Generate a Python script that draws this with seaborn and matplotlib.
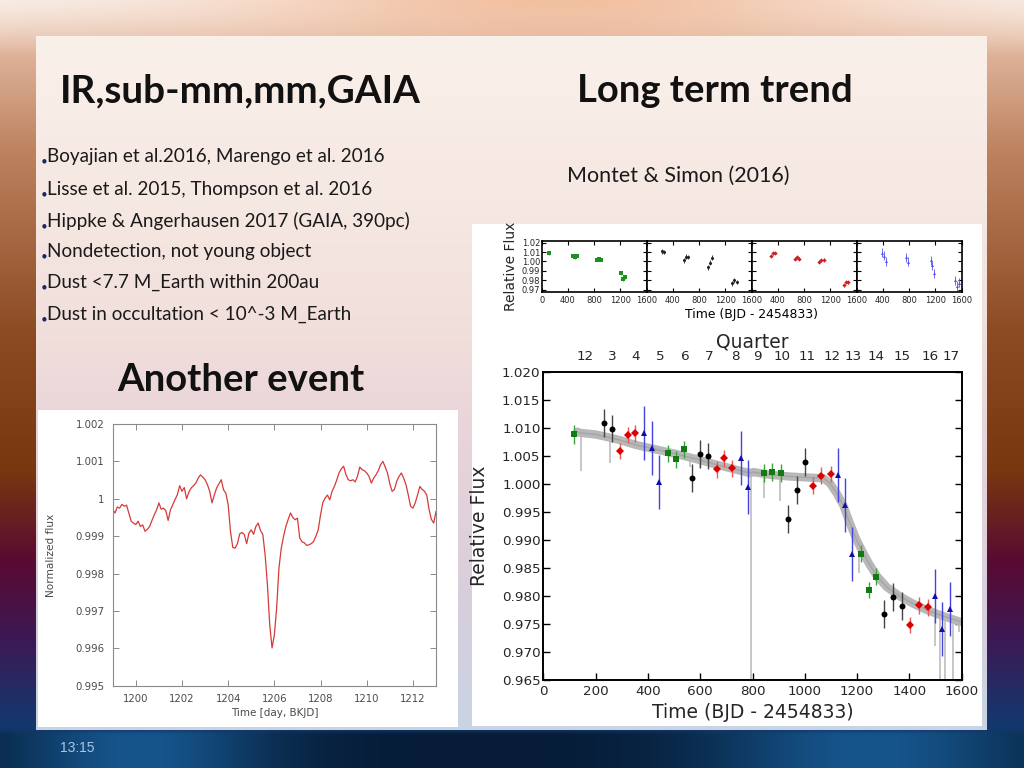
import numpy as np
import matplotlib
matplotlib.use("Agg")
import matplotlib.pyplot as plt
import seaborn as sns

# ---------------- data ----------------
bullets = [
    "Boyajian et al.2016, Marengo et al. 2016",
    "Lisse et al. 2015, Thompson et al. 2016",
    "Hippke & Angerhausen 2017 (GAIA, 390pc)",
    "Nondetection, not young object",
    "Dust <7.7 M_Earth within 200au",
    "Dust in occultation < 10^-3 M_Earth",
]

event_time = [1199.0, 1199.1, 1199.2, 1199.3, 1199.4, 1199.5, 1199.6, 1199.7, 1199.8, 1199.9,
              1200.0, 1200.1, 1200.2, 1200.3, 1200.4, 1200.5, 1200.6, 1200.7, 1200.8, 1200.9,
              1201.0, 1201.1, 1201.2, 1201.3, 1201.4, 1201.5, 1201.6, 1201.7, 1201.8, 1201.9,
              1202.0, 1202.1, 1202.2, 1202.3, 1202.4, 1202.5, 1202.6, 1202.7, 1202.8, 1202.9,
              1203.0, 1203.1, 1203.2, 1203.3, 1203.4, 1203.5, 1203.6, 1203.7, 1203.8, 1203.9,
              1204.0, 1204.1, 1204.2, 1204.3, 1204.4, 1204.5, 1204.6, 1204.7, 1204.8, 1204.9,
              1205.0, 1205.1, 1205.2, 1205.3, 1205.4, 1205.5, 1205.6, 1205.7, 1205.8, 1205.9,
              1206.0, 1206.1, 1206.2, 1206.3, 1206.4, 1206.5, 1206.6, 1206.7, 1206.8, 1206.9,
              1207.0, 1207.1, 1207.2, 1207.3, 1207.4, 1207.5, 1207.6, 1207.7, 1207.8, 1207.9,
              1208.0, 1208.1, 1208.2, 1208.3, 1208.4, 1208.5, 1208.6, 1208.7, 1208.8, 1208.9,
              1209.0, 1209.1, 1209.2, 1209.3, 1209.4, 1209.5, 1209.6, 1209.7, 1209.8, 1209.9,
              1210.0, 1210.1, 1210.2, 1210.3, 1210.4, 1210.5, 1210.6, 1210.7, 1210.8, 1210.9,
              1211.0, 1211.1, 1211.2, 1211.3, 1211.4, 1211.5, 1211.6, 1211.7, 1211.8, 1211.9,
              1212.0, 1212.1, 1212.2, 1212.3, 1212.4, 1212.5, 1212.6, 1212.7, 1212.8, 1212.9,
              1213.0]
event_flux = [0.99971, 0.99962, 0.99978, 0.99975, 0.99985, 0.99980, 0.99983, 0.99962, 0.99940, 0.99935,
              0.99931, 0.99940, 0.99926, 0.99930, 0.99913, 0.99918, 0.99926, 0.99942, 0.99957, 0.99970,
              0.99989, 0.99972, 0.99975, 0.99968, 0.99942, 0.99970, 0.99984, 0.99998, 1.00011, 1.00035,
              1.00020, 1.00030, 1.00000, 1.00018, 1.00029, 1.00035, 1.00042, 1.00055, 1.00064, 1.00058,
              1.00051, 1.00038, 1.00020, 0.99989, 1.00010, 1.00029, 1.00040, 1.00051, 1.00024, 1.00015,
              0.99984, 0.99913, 0.99870, 0.99868, 0.99880, 0.99906, 0.99910, 0.99904, 0.99880, 0.99908,
              0.99917, 0.99905, 0.99926, 0.99935, 0.99915, 0.99905, 0.99850, 0.99770, 0.99663, 0.99601,
              0.99636, 0.99708, 0.99815, 0.99868, 0.99900, 0.99926, 0.99945, 0.99962, 0.99950, 0.99944,
              0.99948, 0.99895, 0.99885, 0.99882, 0.99875, 0.99877, 0.99880, 0.99886, 0.99900, 0.99917,
              0.99957, 0.99990, 1.00002, 1.00010, 0.99997, 1.00020, 1.00033, 1.00050, 1.00069, 1.00080,
              1.00087, 1.00065, 1.00051, 1.00048, 1.00051, 1.00045, 1.00060, 1.00085, 1.00078, 1.00075,
              1.00069, 1.00060, 1.00042, 1.00055, 1.00064, 1.00075, 1.00091, 1.00100, 1.00085, 1.00069,
              1.00040, 1.00020, 1.00025, 1.00047, 1.00060, 1.00069, 1.00055, 1.00038, 1.00010, 0.99980,
              0.99975, 0.99989, 1.00010, 1.00033, 1.00025, 1.00020, 1.00010, 0.99971, 0.99945, 0.99935,
              0.99966]

trend_t = [130, 140, 200, 230, 293, 357, 434, 510, 586, 663, 739, 790, 803, 867, 943, 1020,
           1071, 1096, 1122, 1147, 1173, 1198, 1224, 1249, 1275, 1313, 1364, 1415, 1466, 1517,
           1555, 1594]
trend_f = [1.0093, 1.0091, 1.0088, 1.0085, 1.0078, 1.0069, 1.0061, 1.0053, 1.0044, 1.0034,
           1.0025, 1.0019, 1.0021, 1.0016, 1.0013, 1.0011, 1.0010, 1.0001, 0.9983, 0.9962,
           0.9929, 0.9900, 0.9876, 0.9855, 0.9836, 0.9816, 0.9799, 0.9786, 0.9775, 0.9766,
           0.9760, 0.9754]
spike_t = [143, 255, 560, 600, 793, 845, 905, 1207, 1498, 1517, 1536, 1568, 1590]
spike_hi = [1.0091, 1.0085, 1.0046, 1.0043, 1.0019, 1.0016, 1.0015, 0.9895, 0.9769, 0.9766, 0.9764, 0.9760, 0.9754]
spike_lo = [1.0022, 1.0037, 1.0030, 1.0028, 0.9650, 0.9975, 0.9970, 0.9841, 0.9710, 0.9650, 0.9650, 0.9650, 0.9735]

green_t = [116, 478, 506, 539, 845, 876, 908, 1215, 1246, 1272]
green_f = [1.00888, 1.00543, 1.00436, 1.00615, 1.00186, 1.00216, 1.00186, 0.98754, 0.98105, 0.98343]
green_e = [0.0017, 0.0015, 0.0015, 0.0015, 0.0016, 0.0016, 0.0016, 0.0015, 0.0015, 0.0015]

black_t = [232, 261, 567, 599, 630, 937, 969, 1001, 1304, 1336, 1371]
black_f = [1.01078, 1.00981, 1.00109, 1.00525, 1.00496, 0.99378, 0.99889, 1.00389, 0.97683, 0.97987, 0.97814]
black_e = [0.0025, 0.0024, 0.0025, 0.0025, 0.0024, 0.0025, 0.0025, 0.0025, 0.0025, 0.0025, 0.0025]

red_t = [293, 324, 352, 663, 692, 720, 1033, 1063, 1099, 1402, 1436, 1470]
red_f = [1.00585, 1.00870, 1.00900, 1.00258, 1.00454, 1.00276, 0.99967, 1.00145, 1.00175, 0.97481, 0.97832, 0.97796]
red_e = [0.0015, 0.0015, 0.0015, 0.0015, 0.0015, 0.0015, 0.0015, 0.0015, 0.0015, 0.0015, 0.0015, 0.0015]

blue_t = [385, 414, 444, 755, 784, 1126, 1155, 1182, 1498, 1523, 1555]
blue_f = [1.00912, 1.00632, 1.00038, 1.00454, 0.99949, 1.00151, 0.99622, 0.98748, 0.98004, 0.97404, 0.97766]
blue_e = [0.0048, 0.0048, 0.0048, 0.0048, 0.0048, 0.0048, 0.0048, 0.0048, 0.0048, 0.0048, 0.0048]

quarter_pos = [159, 265, 353, 449, 542, 634, 736, 818, 912, 1007, 1103, 1186, 1272, 1374, 1481, 1559]
quarter_lab = ["12", "3", "4", "5", "6", "7", "8", "9", "10", "11", "12", "13", "14", "15", "16", "17"]

# ---------------- style ----------------
sns.set_theme(style="ticks")
plt.rcParams["font.family"] = ["DejaVu Sans"]
plt.rcParams["axes.grid"] = False

W, H = 1024, 768
fig = plt.figure(figsize=(10.24, 7.68), dpi=100)


def fx(x):
    return x / W


def fy(y):
    return 1 - y / H


# ---------------- slide background ----------------
bg = fig.add_axes([0, 0, 1, 1])
bg.axis("off")
rows = np.arange(H, dtype=float)
cols = np.arange(W, dtype=float)
side_y = [0, 150, 330, 470, 560, 640, 720, 768]
side_c = [(240, 205, 185), (190, 130, 95), (140, 75, 35), (120, 55, 15),
          (90, 10, 50), (60, 25, 85), (20, 55, 110), (10, 55, 100)]
img = np.zeros((H, W, 3))
for k in range(3):
    img[:, :, k] = np.interp(rows, side_y, [c[k] for c in side_c])[:, None]
wt = np.clip(1 - rows / 55.0, 0, 1)[:, None, None]
xf = np.exp(-((cols - 560) / 330.0) ** 2)[None, :, None]
edge = np.array([248, 238, 232])[None, None, :]
peach = np.array([242, 192, 160])[None, None, :]
img = img * (1 - wt) + (edge + (peach - edge) * xf) * wt
wb = np.clip((rows - 728) / 6.0, 0, 1)[:, None, None]
hx = (np.exp(-((cols - 140) / 130.0) ** 2) + np.exp(-((cols - 870) / 160.0) ** 2))[None, :, None]
base = np.array([6, 28, 55])[None, None, :]
hl = np.array([22, 85, 140])[None, None, :]
img = img * (1 - wb) + (base + (hl - base) * np.clip(hx, 0, 1)) * wb
py = [36, 200, 330, 420, 600, 730]
pc = [(250, 240, 234), (246, 232, 226), (241, 223, 219), (234, 213, 217), (216, 206, 220), (200, 212, 228)]
pan = np.zeros((730 - 36, 3))
for k in range(3):
    pan[:, k] = np.interp(np.arange(36, 730), py, [c[k] for c in pc])
img[36:730, 36:987, :] = pan[:, None, :]
img[410:727, 38:458, :] = 255
img[224:726, 472:982, :] = 255
bg.imshow(img.clip(0, 255).astype(np.uint8), extent=[0, W, H, 0], aspect="auto", interpolation="bilinear")
bg.set_xlim(0, W)
bg.set_ylim(H, 0)

# ---------------- slide text ----------------
TF = ["Lato", "DejaVu Sans"]
fig.text(fx(60), fy(102), "IR,sub-mm,mm,GAIA", family=TF, fontsize=27.8, fontweight="bold",
         color="#111111", va="baseline", ha="left")
fig.text(fx(577), fy(102), "Long term trend", family=TF, fontsize=27.5, fontweight="bold",
         color="#111111", va="baseline", ha="left")
fig.text(fx(117), fy(391), "Another event", family=TF, fontsize=27.5, fontweight="bold",
         color="#111111", va="baseline", ha="left")
base_y = [162, 195, 227, 257, 288, 320]
for yb, line in zip(base_y, bullets):
    fig.text(fx(41.5), fy(yb), "\u25CF", family=["DejaVu Sans"], fontsize=4, color="#1a2470",
             va="baseline", ha="left")
    fig.text(fx(47), fy(yb), line, family=TF, fontsize=13.6, color="#1a1a1a", va="baseline", ha="left")
fig.text(fx(567), fy(182), "Montet & Simon (2016)", family=TF, fontsize=15.5, color="#1a1a1a",
         va="baseline", ha="left")
fig.text(fx(60), fy(752), "13:15", family=["Liberation Sans", "DejaVu Sans"], fontsize=10,
         color="#a9c6e6", va="baseline", ha="left")

# ---------------- left chart: another event ----------------
axl = fig.add_axes([fx(112.7), fy(685.7), fx(436 - 112.7), (685.7 - 424) / H])
sns.lineplot(x=event_time, y=event_flux, ax=axl, color="#d63a3a", lw=0.9, estimator=None, sort=False)
axl.set_xlim(1199, 1213)
axl.set_ylim(0.995, 1.002)
axl.set_xticks([1200, 1202, 1204, 1206, 1208, 1210, 1212])
axl.set_yticks([0.995, 0.996, 0.997, 0.998, 0.999, 1.0, 1.001, 1.002])
axl.set_yticklabels(["0.995", "0.996", "0.997", "0.998", "0.999", "1", "1.001", "1.002"])
axl.tick_params(direction="in", length=4, width=0.7, color="#8a8a8a", labelsize=7.3,
                labelcolor="#4a4a4a", right=True, top=True, pad=6)
for s in axl.spines.values():
    s.set_color("#8a8a8a")
    s.set_linewidth(0.8)
axl.set_xlabel("Time [day, BKJD]", fontsize=7.5, color="#4a4a4a", labelpad=3)
axl.set_ylabel("Normalized flux", fontsize=7.6, color="#4a4a4a", labelpad=14)
axl.set_facecolor("white")

# ---------------- series styles ----------------
series = [
    (green_t, green_f, green_e, "s", "#137a13", "#3aa23a"),
    (black_t, black_f, black_e, "o", "#000000", "#444444"),
    (red_t, red_f, red_e, "D", "#dd0000", "#ee5555"),
    (blue_t, blue_f, blue_e, "^", "#1010a8", "#4444dd"),
]

# ---------------- small four-panel chart ----------------
edges = [541.7, 646.7, 751.7, 856.7, 961.7]
small_colors = ["#1f8f1f", "#222222", "#cc2020", "#5555ee"]
for i in range(4):
    ax = fig.add_axes([fx(edges[i]), fy(291.7), fx(edges[i + 1] - edges[i]), 51 / H])
    t, f, e, m, c, ec = series[i]
    ax.errorbar(t, f, yerr=e, fmt=m, ms=2.2, color=small_colors[i], ecolor=small_colors[i],
                elinewidth=0.6, capsize=1, capthick=0.6, mew=0)
    ax.set_xlim(0, 1600)
    ax.set_ylim(0.968, 1.022)
    ax.set_xticks([0, 400, 800, 1200, 1600])
    ax.set_yticks([0.97, 0.98, 0.99, 1.00, 1.01, 1.02])
    if i == 0:
        ax.set_xticklabels(["0", "400", "800", "1200", "1600"])
        ax.set_yticklabels(["0.97", "0.98", "0.99", "1.00", "1.01", "1.02"])
        ax.set_ylabel("Relative Flux", fontsize=10, labelpad=3)
    else:
        ax.set_xticklabels(["", "400", "800", "1200", "1600"])
        ax.set_yticklabels([])
    ax.tick_params(direction="in", length=3, width=0.8, color="black", labelsize=6,
                   right=True, top=True, pad=3)
    ax.tick_params(axis="y", pad=1)
    for s in ax.spines.values():
        s.set_color("black")
        s.set_linewidth(1.2)
    ax.set_facecolor("white")
fig.text(fx(751.7), fy(318), "Time (BJD - 2454833)", fontsize=8.9, ha="center", va="baseline",
         color="black")

# ---------------- main long-term chart ----------------
axm = fig.add_axes([fx(543.3), fy(680), fx(961.7 - 543.3), (680 - 371.7) / H])
axm.vlines(spike_t, spike_lo, spike_hi, color="#bdbdbd", lw=1.2, zorder=1)
sns.lineplot(x=trend_t, y=trend_f, ax=axm, color="#b8b8b8", lw=6, estimator=None, zorder=2)
sns.lineplot(x=trend_t, y=trend_f, ax=axm, color="#a5a5a5", lw=1.0, estimator=None, zorder=2)
for t, f, e, m, c, ec in series:
    ms = {"s": 4.5, "o": 4.3, "D": 4.0, "^": 4.0}[m]
    axm.errorbar(t, f, yerr=e, fmt=m, ms=ms, color=c, ecolor=ec, elinewidth=1.0,
                 capsize=2, capthick=1.0, mew=0, zorder=3)
axm.set_xlim(0, 1600)
axm.set_ylim(0.965, 1.020)
axm.set_xticks(range(0, 1601, 200))
yt = [0.965 + 0.005 * k for k in range(12)]
axm.set_yticks(yt)
axm.set_yticklabels([f"{v:.3f}" for v in yt])
axm.tick_params(direction="in", length=5, width=1.0, color="black", labelsize=9.7,
                right=True, top=True, pad=3.5)
axm.tick_params(axis="y", pad=2)
for s in axm.spines.values():
    s.set_color("black")
    s.set_linewidth(1.4)
axm.set_xlabel("Time (BJD - 2454833)", fontsize=13.5, labelpad=4)
axm.set_ylabel("Relative Flux", fontsize=13.5, labelpad=9)
axm.set_facecolor("white")
axq = axm.twiny()
axq.set_xlim(0, 1600)
axq.set_xticks(quarter_pos)
axq.set_xticklabels(quarter_lab)
axq.tick_params(length=0, labelsize=9.7, pad=6)
axq.set_xlabel("Quarter", fontsize=13.5, labelpad=2)
for s in axq.spines.values():
    s.set_visible(False)

fig.savefig("out.png", dpi=100)
